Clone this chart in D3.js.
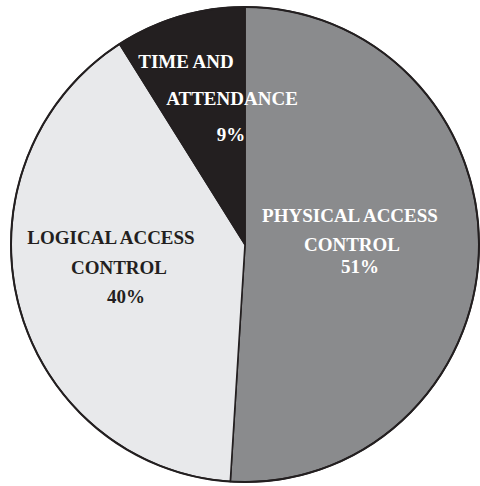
<!DOCTYPE html>
<html><head><meta charset="utf-8">
<script src="https://cdn.jsdelivr.net/npm/d3@7"></script>
<style>body{margin:0;background:#fff}svg{display:block}</style>
</head><body>
<svg id="c" width="480" height="486"></svg>
<script>
const categories = ["PHYSICAL ACCESS CONTROL", "LOGICAL ACCESS CONTROL", "TIME AND ATTENDANCE"];
const values = [51, 40, 9];
const labelLines = [["PHYSICAL ACCESS", "CONTROL", "51%"], ["LOGICAL ACCESS", "CONTROL", "40%"], ["TIME AND", "ATTENDANCE", "9%"]];
const colors = ["#8a8b8d", "#e8e9eb", "#231f20"];
const textColors = ["#ffffff", "#231f20", "#ffffff"];

// layout
const cx = 245, cy = 244.5, r = 234, sy = 237.5 / 234;
const labelLayout = [
  {dx: [105, 107, 115], dy: [-23, 6, 28]},
  {dx: [-134, -126, -119], dy: [-1, 29, 58]},
  {dx: [-59, -13, -14], dy: [-177, -140, -104]}
];

const svg = d3.select("#c");
const g = svg.append("g").attr("transform", `translate(${cx},${cy}) scale(1,${sy})`);
const pie = d3.pie().sort(null).value(d => d)(values);
const arc = d3.arc().innerRadius(0).outerRadius(r);
g.selectAll("path").data(pie).join("path")
  .attr("d", arc)
  .attr("fill", (d, i) => colors[i])
  .attr("stroke", "#231f20")
  .attr("stroke-width", 1.6)
  .attr("stroke-linejoin", "round");
g.append("circle").attr("r", r).attr("fill", "none").attr("stroke", "#231f20").attr("stroke-width", 2);

const lg = svg.append("g").attr("transform", `translate(${cx},${cy})`);
pie.forEach((d, i) => {
  labelLines[i].forEach((t, j) => {
    lg.append("text")
      .attr("x", labelLayout[i].dx[j])
      .attr("y", labelLayout[i].dy[j])
      .attr("text-anchor", "middle")
      .attr("font-family", "'Liberation Serif','Times New Roman',serif")
      .attr("font-weight", "bold")
      .attr("font-size", 19)
      .attr("fill", textColors[i])
      .text(t);
  });
});
</script>
</body></html>
